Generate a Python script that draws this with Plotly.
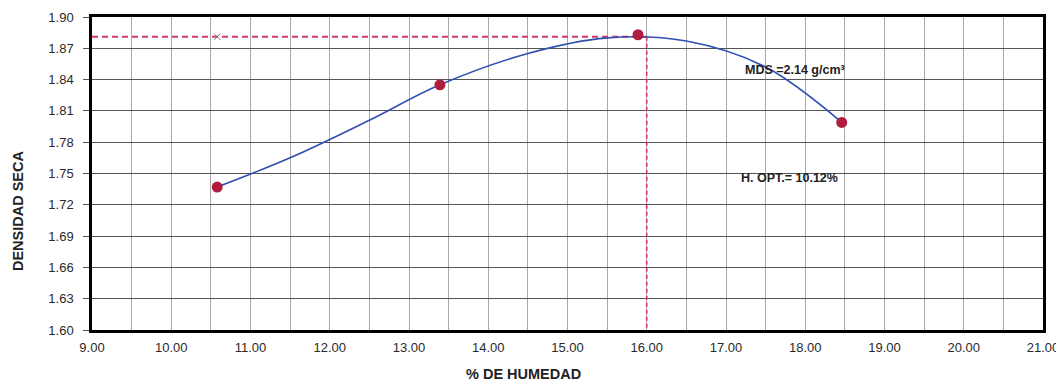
import plotly.graph_objects as go

# Measured points
humedad = [10.58, 13.39, 15.89, 18.46]
densidad = [1.737, 1.835, 1.883, 1.799]

# Trend curve
curve_x = [10.58, 11.50, 12.50, 13.39, 14.50, 15.50, 16.50, 17.50, 18.46]
curve_y = [1.737, 1.765, 1.801, 1.835, 1.865, 1.880, 1.877, 1.852, 1.799]

# Optimum reference lines
opt_x = 16.0
opt_y = 1.881
x_min, x_max = 9.0, 21.0
y_min, y_max = 1.60, 1.90

x_ticks = [9, 10, 11, 12, 13, 14, 15, 16, 17, 18, 19, 20, 21]
y_ticks = [1.60, 1.63, 1.66, 1.69, 1.72, 1.75, 1.78, 1.81, 1.84, 1.87, 1.90]

FONT = "Liberation Sans, Arial"

fig = go.Figure()

# dashed reference lines
fig.add_trace(go.Scatter(x=[x_min, opt_x], y=[opt_y, opt_y], mode="lines",
                         line=dict(color="#D6336F", width=2, dash="6px,4px"),
                         hoverinfo="skip", showlegend=False))
fig.add_trace(go.Scatter(x=[opt_x, opt_x], y=[opt_y, y_min], mode="lines",
                         line=dict(color="#DC3478", width=1.6, dash="4px,3px"),
                         hoverinfo="skip", showlegend=False))
fig.add_trace(go.Scatter(x=[humedad[0]], y=[opt_y], mode="markers",
                         marker=dict(symbol="x-thin", size=6, line=dict(color="#8A7080", width=1)),
                         hoverinfo="skip", showlegend=False))

# trend curve
fig.add_trace(go.Scatter(x=curve_x, y=curve_y, mode="lines", line_shape="spline",
                         line=dict(color="#2F4FB2", width=1.6, smoothing=1.0), showlegend=False))

# data points
fig.add_trace(go.Scatter(x=humedad, y=densidad, mode="markers",
                         marker=dict(color="#B01E3E", size=11), showlegend=False))

fig.add_annotation(x=17.87, y=1.849, text="<b>MDS =2.14 g/cm³</b>", showarrow=False,
                   font=dict(family=FONT, size=12.5, color="#222"))
fig.add_annotation(x=17.8, y=1.746, text="<b>H. OPT.= 10.12%</b>", showarrow=False,
                   font=dict(family=FONT, size=12.5, color="#222"))

# axis titles
fig.add_annotation(xref="paper", yref="paper", x=0.454, y=0, yanchor="middle",
                   yshift=-44, text="<b>% DE HUMEDAD</b>", showarrow=False,
                   font=dict(family=FONT, size=14.5, color="#222"))
fig.add_annotation(xref="paper", yref="paper", x=0, y=0.38, xanchor="center",
                   xshift=-74, textangle=-90, text="<b>DENSIDAD SECA</b>", showarrow=False,
                   font=dict(family=FONT, size=14.5, color="#222"))

fig.update_xaxes(range=[x_min, x_max], tickvals=x_ticks,
                 ticktext=[f"{v:.2f}" for v in x_ticks],
                 showgrid=True, gridcolor="#A8A8A8", gridwidth=1,
                 minor=dict(dtick=0.5, showgrid=True, gridcolor="#A8A8A8", gridwidth=1),
                 showline=True, linecolor="black", linewidth=2.5, mirror=True,
                 zeroline=False, ticks="", ticklabelstandoff=4, automargin=False,
                 tickfont=dict(family=FONT, size=13, color="#2a2a2a"))
fig.update_yaxes(range=[y_min, y_max], tickvals=y_ticks,
                 ticktext=[f"{v:.2f}" for v in y_ticks],
                 showgrid=True, gridcolor="#555555", gridwidth=1,
                 showline=True, linecolor="black", linewidth=2.5, mirror=True,
                 zeroline=False, ticks="outside", ticklen=6, tickcolor="#555555",
                 ticklabelstandoff=7, automargin=False,
                 tickfont=dict(family=FONT, size=13, color="#2a2a2a"))

# the page body adds an 8px offset, so the figure is sized to fill the 1064x383 view
fig.update_layout(width=1056, height=375, margin=dict(l=84, r=21, t=9, b=53),
                  paper_bgcolor="white", plot_bgcolor="white")

fig.write_html("out.html")
